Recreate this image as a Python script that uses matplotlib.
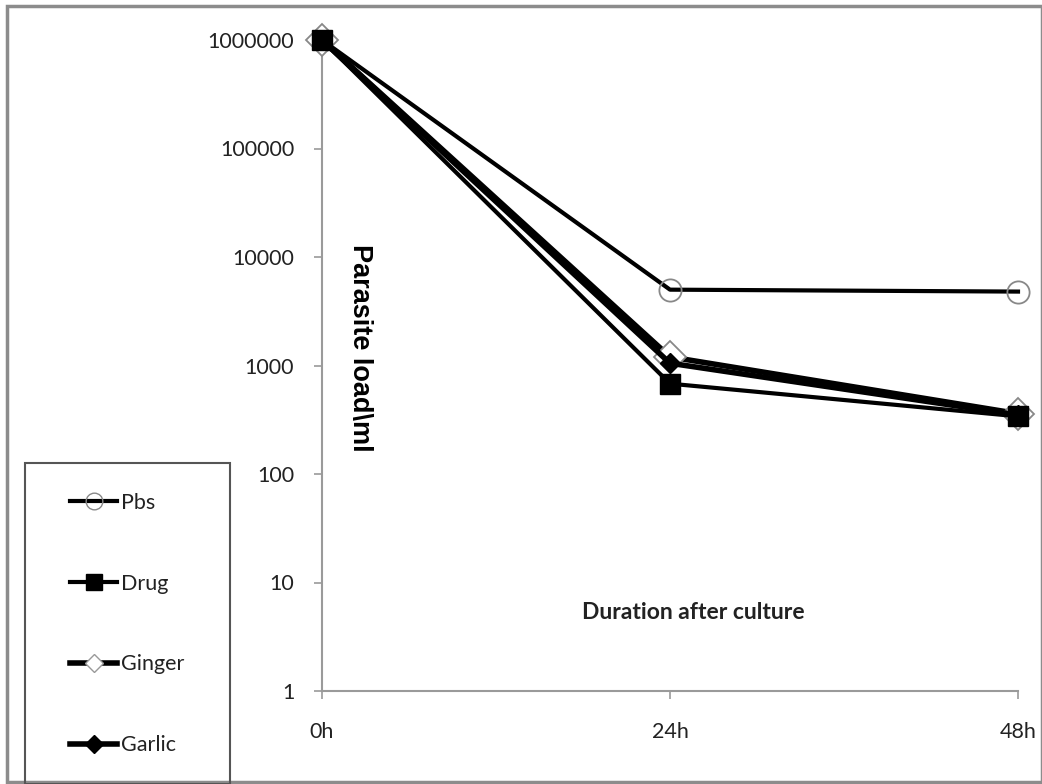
import matplotlib
matplotlib.use("Agg")
import matplotlib.pyplot as plt
from matplotlib.patches import Rectangle
from matplotlib.lines import Line2D

times = ["0h", "24h", "48h"]
pbs = [1000000, 5000, 4800]
drug = [1000000, 680, 340]
ginger = [1000000, 1200, 360]
garlic = [1000000, 1050, 350]
yticks = [1, 10, 100, 1000, 10000, 100000, 1000000]
ytick_labels = ["1", "10", "100", "1000", "10000", "100000", "1000000"]

W, H = 1042, 784
fig = plt.figure(figsize=(W / 100, H / 100), dpi=100)
fig.patch.set_facecolor("white")

# outer frame
fig.add_artist(Rectangle((7 / W, 2 / H), (W - 7) / W, (H - 8) / H, transform=fig.transFigure,
                         fill=False, edgecolor="#8c8c8c", linewidth=2.5))

ax = fig.add_axes([322 / W, 1 - 691 / H, (1018 - 322) / W, (691 - 40) / H])
x = list(range(len(times)))

ax.plot(x, pbs, color="black", lw=3, marker="o", ms=16, mfc="none", mec="#888888", mew=1.3,
        label="Pbs", zorder=3, clip_on=False)
ax.plot(x, ginger, color="black", lw=4, marker="D", ms=16, mfc="white", mec="#888888", mew=1.3,
        label="Ginger", zorder=4, clip_on=False)
ax.plot(x, garlic, color="black", lw=4, marker="D", ms=10, mfc="black", mec="black",
        label="Garlic", zorder=5, clip_on=False)
ax.plot(x, drug, color="black", lw=3, marker="s", ms=15, mfc="black", mec="black",
        label="Drug", zorder=6, clip_on=False)

ax.set_yscale("log")
ax.set_ylim(1, 1000000)
ax.set_xlim(0, 2)
ax.set_yticks(yticks)
ax.set_yticklabels(ytick_labels)
ax.minorticks_off()
ax.set_xticks(x)
ax.set_xticklabels(times)

for s in ["top", "right"]:
    ax.spines[s].set_visible(False)
for s in ["left", "bottom"]:
    ax.spines[s].set_color("#9a9a9a")
    ax.spines[s].set_linewidth(1.5)
ax.tick_params(axis="both", colors="#9a9a9a", length=6, width=1.2, labelcolor="#222222",
               labelsize=15.5)
ax.tick_params(axis="y", pad=14)
ax.tick_params(axis="x", pad=16)
for lab in ax.get_xticklabels() + ax.get_yticklabels():
    lab.set_family("Lato")

ax.text(0.055, 0.527, "Parasite load\\ml", transform=ax.transAxes, rotation=-90,
        ha="center", va="center", fontsize=19.5, fontweight="bold", family="Liberation Sans")
ax.text(0.533, 0.121, "Duration after culture", transform=ax.transAxes, ha="center", va="center",
        fontsize=16.5, fontweight="bold", family="Lato", color="#222222")

# legend box
fig.add_artist(Rectangle((25 / W, 0), (230 - 25) / W, (H - 463) / H, transform=fig.transFigure,
                         fill=False, edgecolor="#555555", linewidth=1.5))
handles = [
    Line2D([], [], color="black", lw=3, marker="o", ms=12, mfc="none", mec="#888888"),
    Line2D([], [], color="black", lw=3, marker="s", ms=11, mfc="black", mec="black"),
    Line2D([], [], color="black", lw=4, marker="D", ms=9, mfc="white", mec="#999999"),
    Line2D([], [], color="black", lw=4, marker="D", ms=9, mfc="black", mec="black"),
]
leg = fig.legend(handles, ["Pbs", "Drug", "Ginger", "Garlic"], loc="center",
                 bbox_to_anchor=(127 / W, 1 - 624 / H), frameon=False,
                 prop={"family": "Lato", "size": 15.5}, handlelength=2.2, handletextpad=0.15,
                 labelspacing=2.82, numpoints=1)
for t in leg.get_texts():
    t.set_color("#222222")

fig.savefig("out.png", dpi=100)
